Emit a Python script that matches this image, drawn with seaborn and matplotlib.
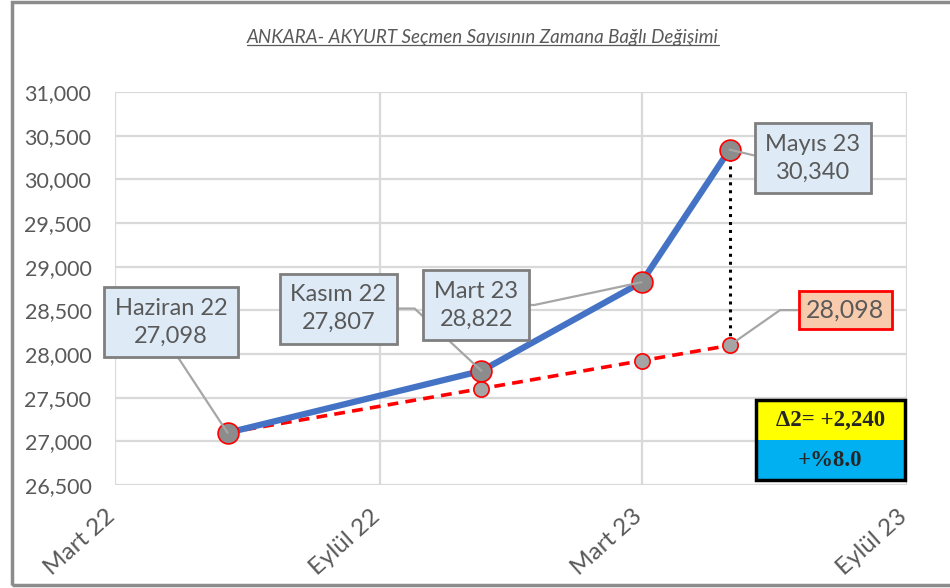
import matplotlib
matplotlib.use("Agg")
import matplotlib.pyplot as plt
import matplotlib.ticker as mticker
import matplotlib.transforms as mtransforms
from matplotlib.patches import Rectangle
from matplotlib.lines import Line2D
import pandas as pd
import seaborn as sns

# data
dates = ["2022-05-18", "2022-11-10", "2023-03-01", "2023-05-01"]
period_labels = ["Haziran 22", "Kasım 22", "Mart 23", "Mayıs 23"]
voters = [27098, 27807, 28822, 30340]
trend = [27098, 27604, 27923, 28098]
x_ticks = ["2022-03-01", "2022-09-01", "2023-03-01", "2023-09-01"]
x_tick_labels = ["Mart 22", "Eylül 22", "Mart 23", "Eylül 23"]
delta_text = "Δ2= +2,240"
pct_text = "+%8.0"
title = "ANKARA- AKYURT Seçmen Sayısının Zamana Bağlı Değişimi"

df = pd.DataFrame({"date": pd.to_datetime(dates), "voters": voters, "trend": trend})

sns.set_style("white")
plt.rcParams["font.family"] = ["Lato", "DejaVu Sans"]

TXT = "#595959"
fig = plt.figure(figsize=(9.5, 5.88), dpi=100)
ax = fig.add_axes([115 / 950, 1 - 485 / 588, 792 / 950, 393 / 588])

sns.lineplot(data=df, x="date", y="trend", ax=ax, color="#FF0000", lw=2.6,
             linestyle=(0, (3, 2)), marker="o", markersize=11,
             markerfacecolor="#A5A5A5", markeredgecolor="#FF0000",
             markeredgewidth=1.2, zorder=3)
sns.lineplot(data=df, x="date", y="voters", ax=ax, color="#4472C4", lw=4.5,
             marker="o", markersize=15, markerfacecolor="#8C8C8C",
             markeredgecolor="#FF0000", markeredgewidth=1.2, zorder=4)

# dotted gap line at the last point
last = df.iloc[-1]
ax.plot([last["date"], last["date"]], [last["voters"], last["trend"]],
        color="black", ls=(0, (1, 1.6)), lw=2.2, zorder=2.5)

ax.set_xlim(pd.Timestamp(x_ticks[0]), pd.Timestamp(x_ticks[-1]))
ax.set_ylim(26500, 31000)
ax.set_yticks(range(26500, 31001, 500))
ax.yaxis.set_major_formatter(mticker.StrMethodFormatter("{x:,.0f}"))
ax.set_xticks(pd.to_datetime(x_ticks))
ax.set_xticklabels(x_tick_labels, rotation=42, ha="right", rotation_mode="anchor")
ax.tick_params(axis="y", length=0, pad=17, labelsize=15.5, labelcolor=TXT)
ax.tick_params(axis="x", length=0, pad=15, labelsize=17.5, labelcolor=TXT)
shift = mtransforms.ScaledTranslation(-0.1, 0, fig.dpi_scale_trans)
for lbl in ax.get_xticklabels():
    lbl.set_transform(lbl.get_transform() + shift)
ax.set_xlabel("")
ax.set_ylabel("")
ax.grid(True, color="#D9D9D9", lw=1.6)
for s in ax.spines.values():
    s.set_visible(False)

# data labels with leader lines
box = dict(boxstyle="square,pad=0.45", fc="#DEEBF7", ec="#7F7F7F", lw=2)
lead = dict(arrowstyle="-", color="#A6A6A6", lw=1.6, shrinkA=0, shrinkB=0)
label_pos = [(0.0707, 0.414), (0.282, 0.449), (0.456, 0.458), (0.881, 0.832)]
label_conn = [dict(relpos=(0.5, 0)),
              dict(relpos=(1, 0.5), connectionstyle="angle,angleA=0,angleB=-43,rad=0"),
              dict(relpos=(1, 0.5), connectionstyle="angle,angleA=0,angleB=12,rad=0"),
              dict(relpos=(0, 0.5))]
for i, row in df.iterrows():
    ax.annotate(f"{period_labels[i]}\n{row['voters']:,}", xy=(row["date"], row["voters"]),
                xytext=label_pos[i], textcoords="axes fraction", ha="center", va="center",
                fontsize=17, color=TXT, linespacing=1.4, bbox=box,
                arrowprops={**lead, **label_conn[i]}, zorder=5)

ax.annotate(f"{last['trend']:,}", xy=(last["date"], last["trend"]),
            xytext=(0.922, 0.445), textcoords="axes fraction", ha="center", va="center",
            fontsize=18, color=TXT,
            bbox=dict(boxstyle="square,pad=0.3", fc="#F8CBAD", ec="#FF0000", lw=2),
            arrowprops={**lead, "relpos": (0, 0.5),
                        "connectionstyle": "angle,angleA=0,angleB=35,rad=0"},
            zorder=5)

# delta box
x0, x1, ymid, ytop, ybot = 0.809, 0.9975, 0.1145, 0.216, 0.0127
ax.add_patch(Rectangle((x0, ymid), x1 - x0, ytop - ymid, transform=ax.transAxes,
                       fc="#FFFF00", ec="none", zorder=6, clip_on=False))
ax.add_patch(Rectangle((x0, ybot), x1 - x0, ymid - ybot, transform=ax.transAxes,
                       fc="#00B0F0", ec="none", zorder=6, clip_on=False))
ax.add_patch(Rectangle((x0, ybot), x1 - x0, ytop - ybot, transform=ax.transAxes,
                       fc="none", ec="black", lw=2.5, zorder=7, clip_on=False))
ax.text((x0 + x1) / 2, (ymid + ytop) / 2, delta_text, transform=ax.transAxes,
        ha="center", va="center", fontsize=16.5, fontweight="bold",
        family="Liberation Serif", zorder=8)
ax.text((x0 + x1) / 2, (ybot + ymid) / 2, pct_text, transform=ax.transAxes,
        ha="center", va="center", fontsize=16.5, fontweight="bold",
        family="Liberation Serif", zorder=8)

# title, underlined
t = fig.text(483 / 950, 1 - 38 / 588, title, ha="center", va="center",
             fontsize=13.5, style="italic", color=TXT)
fig.canvas.draw()
bb = t.get_window_extent().transformed(fig.transFigure.inverted())
fig.add_artist(Line2D([bb.x0, bb.x1], [bb.y0 + 0.003, bb.y0 + 0.003],
                      transform=fig.transFigure, color=TXT, lw=0.9))

# chart frame
fig.add_artist(Rectangle((12 / 950, 3 / 588), 960 / 950, 583 / 588,
                         transform=fig.transFigure, fc="none", ec="#8C8C8C", lw=2.5))

fig.savefig("out.png", dpi=100)
